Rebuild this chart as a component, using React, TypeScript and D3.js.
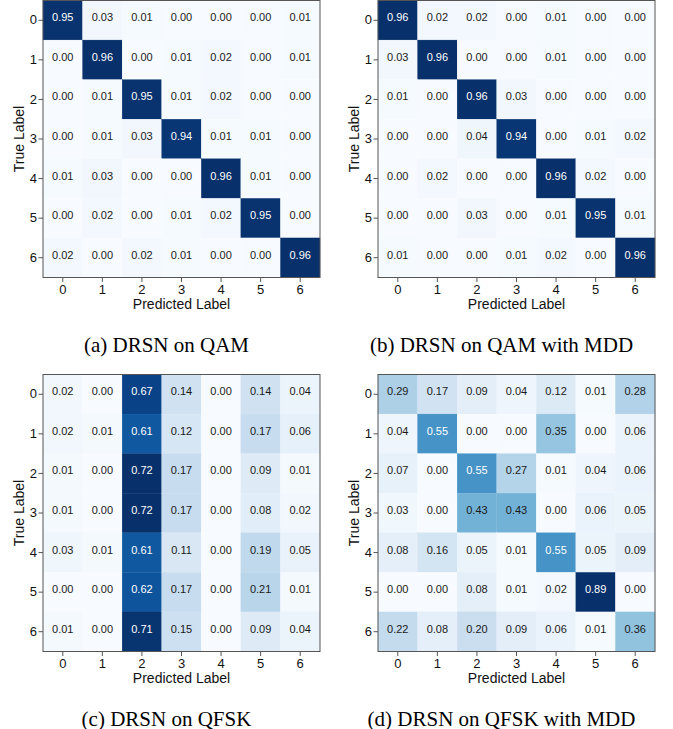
import * as d3 from "d3";
import { useEffect, useRef } from "react";

const labels = ["0", "1", "2", "3", "4", "5", "6"];

const qamMatrix = [
    [0.95, 0.03, 0.01, 0.0, 0.0, 0.0, 0.01],
    [0.0, 0.96, 0.0, 0.01, 0.02, 0.0, 0.01],
    [0.0, 0.01, 0.95, 0.01, 0.02, 0.0, 0.0],
    [0.0, 0.01, 0.03, 0.94, 0.01, 0.01, 0.0],
    [0.01, 0.03, 0.0, 0.0, 0.96, 0.01, 0.0],
    [0.0, 0.02, 0.0, 0.01, 0.02, 0.95, 0.0],
    [0.02, 0.0, 0.02, 0.01, 0.0, 0.0, 0.96],
];

const qamMddMatrix = [
    [0.96, 0.02, 0.02, 0.0, 0.01, 0.0, 0.0],
    [0.03, 0.96, 0.0, 0.0, 0.01, 0.0, 0.0],
    [0.01, 0.0, 0.96, 0.03, 0.0, 0.0, 0.0],
    [0.0, 0.0, 0.04, 0.94, 0.0, 0.01, 0.02],
    [0.0, 0.02, 0.0, 0.0, 0.96, 0.02, 0.0],
    [0.0, 0.0, 0.03, 0.0, 0.01, 0.95, 0.01],
    [0.01, 0.0, 0.0, 0.01, 0.02, 0.0, 0.96],
];

const qfskMatrix = [
    [0.02, 0.0, 0.67, 0.14, 0.0, 0.14, 0.04],
    [0.02, 0.01, 0.61, 0.12, 0.0, 0.17, 0.06],
    [0.01, 0.0, 0.72, 0.17, 0.0, 0.09, 0.01],
    [0.01, 0.0, 0.72, 0.17, 0.0, 0.08, 0.02],
    [0.03, 0.01, 0.61, 0.11, 0.0, 0.19, 0.05],
    [0.0, 0.0, 0.62, 0.17, 0.0, 0.21, 0.01],
    [0.01, 0.0, 0.71, 0.15, 0.0, 0.09, 0.04],
];

const qfskMddMatrix = [
    [0.29, 0.17, 0.09, 0.04, 0.12, 0.01, 0.28],
    [0.04, 0.55, 0.0, 0.0, 0.35, 0.0, 0.06],
    [0.07, 0.0, 0.55, 0.27, 0.01, 0.04, 0.06],
    [0.03, 0.0, 0.43, 0.43, 0.0, 0.06, 0.05],
    [0.08, 0.16, 0.05, 0.01, 0.55, 0.05, 0.09],
    [0.0, 0.0, 0.08, 0.01, 0.02, 0.89, 0.0],
    [0.22, 0.08, 0.2, 0.09, 0.06, 0.01, 0.36],
];

const captions = [
    "(a) DRSN on QAM",
    "(b) DRSN on QAM with MDD",
    "(c) DRSN on QFSK",
    "(d) DRSN on QFSK with MDD",
];

const matrices = [qamMatrix, qamMddMatrix, qfskMatrix, qfskMddMatrix];

const SANS = "'Liberation Sans', Arial, sans-serif";
const SERIF = "'Liberation Serif', 'Times New Roman', serif";

function ConfusionFigure() {
    const ref = useRef<SVGSVGElement>(null);

    useEffect(() => {
        const svg = d3.select(ref.current);
        svg.selectAll("*").remove();

        const width = 673;
        const height = 729;
        const size = 277;
        // plot-area origins for the 2x2 grid
        const origins = [
            [43, 0.5],
            [378, 0.5],
            [43, 374.5],
            [378, 374.5],
        ];

        svg.attr("width", width).attr("height", height);

        matrices.forEach((matrix, i) => {
            const [ox, oy] = origins[i];
            const g = svg.append("g").attr("transform", `translate(${ox},${oy})`);

            const x = d3.scaleBand().domain(labels).range([0, size]);
            const y = d3.scaleBand().domain(labels).range([0, size]);

            const vmax = d3.max(matrix.flat()) || 1;
            const color = d3.scaleSequential(d3.interpolateBlues).domain([0, vmax]);

            const cells = matrix.flatMap((row, r) =>
                row.map((v, c) => ({ r: labels[r], c: labels[c], v }))
            );

            // heatmap cells
            g.selectAll("rect.cell")
                .data(cells)
                .enter()
                .append("rect")
                .attr("class", "cell")
                .attr("x", d => x(d.c) || 0)
                .attr("y", d => y(d.r) || 0)
                .attr("width", x.bandwidth())
                .attr("height", y.bandwidth())
                .attr("fill", d => color(d.v))
                .attr("stroke", d => color(d.v))
                .attr("stroke-width", 0.3);

            // cell values
            g.selectAll("text.val")
                .data(cells)
                .enter()
                .append("text")
                .attr("class", "val")
                .attr("x", d => (x(d.c) || 0) + x.bandwidth() / 2)
                .attr("y", d => (y(d.r) || 0) + y.bandwidth() / 2 - 3)
                .attr("text-anchor", "middle")
                .attr("dominant-baseline", "central")
                .style("font-family", SANS)
                .style("font-size", "11px")
                .attr("fill", d => (d.v > vmax / 2 ? "#ffffff" : "#1a1a1a"))
                .text(d => d.v.toFixed(2));

            // frame
            g.append("rect")
                .attr("width", size)
                .attr("height", size)
                .attr("fill", "none")
                .attr("stroke", "#555")
                .attr("stroke-width", 1);

            // axes
            const yAxis = g
                .append("g")
                .call(d3.axisLeft(y).tickSize(4.5).tickPadding(1.5));
            const xAxis = g
                .append("g")
                .attr("transform", `translate(0,${size})`)
                .call(d3.axisBottom(x).tickSize(4.5).tickPadding(2.5));

            [xAxis, yAxis].forEach(ax => {
                ax.select(".domain").remove();
                ax.selectAll("line").attr("stroke", "#555");
                ax.selectAll("text")
                    .style("font-family", SANS)
                    .style("font-size", "13px")
                    .attr("fill", "#111");
            });

            // labels
            g.append("text")
                .attr("x", size / 2)
                .attr("y", size + 31.5)
                .attr("text-anchor", "middle")
                .style("font-family", SANS)
                .style("font-size", "14px")
                .attr("fill", "#111")
                .text("Predicted Label");

            g.append("text")
                .attr("transform", `translate(-19,${size / 2}) rotate(-90)`)
                .attr("text-anchor", "middle")
                .style("font-family", SANS)
                .style("font-size", "14px")
                .attr("fill", "#111")
                .text("True Label");

            g.append("text")
                .attr("x", size / 2 - 15)
                .attr("y", size + 74)
                .attr("text-anchor", "middle")
                .style("font-family", SERIF)
                .style("font-size", "21px")
                .attr("fill", "#000")
                .text(captions[i]);
        });
    }, []);

    return <svg ref={ref} style={{ display: "block", background: "#fff" }} />;
}

export default function App() {
    return (
        <div style={{ position: "absolute", left: 0, top: 0, width: 673, height: 729 }}>
            <ConfusionFigure />
        </div>
    );
}
